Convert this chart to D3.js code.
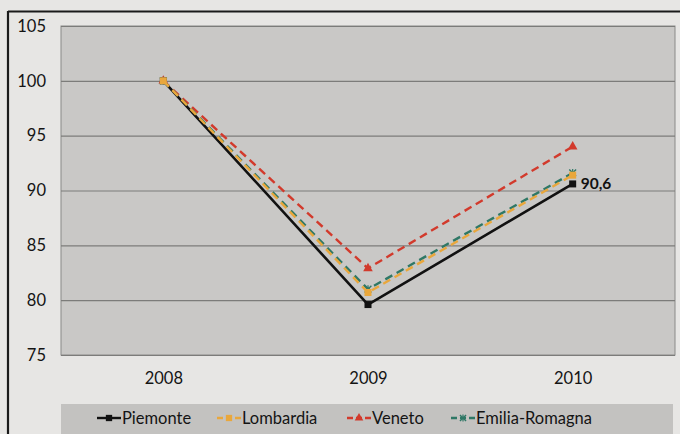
<!DOCTYPE html>
<html>
<head>
<meta charset="utf-8">
<script src="https://cdn.jsdelivr.net/npm/d3@7"></script>
<style>
  html, body { margin: 0; padding: 0; background: #e7e6e4; }
  svg { display: block; font-family: Lato, "Open Sans", sans-serif; }
</style>
</head>
<body>
<svg id="chart" width="680" height="434"></svg>
<script>
// Index 2008 = 100
const years = ["2008", "2009", "2010"];
const yTicks = [75, 80, 85, 90, 95, 100, 105];
const piemonte = [100, 79.6, 90.6];
const lombardia = [100, 80.7, 91.4];
const veneto = [100, 82.9, 94.0];
const emiliaRomagna = [100, 81.0, 91.6];

const seriesNames = ["Piemonte", "Lombardia", "Veneto", "Emilia-Romagna"];
const seriesValues = [piemonte, lombardia, veneto, emiliaRomagna];
const seriesColors = ["#111111", "#e9a73c", "#d23a2c", "#2f7866"];
const seriesDash = [null, "8,5", "8,5", "8,5"];
const seriesMarkers = ["square", "square", "triangle", "star"];

const svg = d3.select("#chart");
const W = 680, H = 434;
const plot = { left: 61, right: 675, top: 26, bottom: 355 };

// Outer frame (top and left edges)
svg.append("line").attr("x1", 8).attr("x2", W).attr("y1", 11.5).attr("y2", 11.5)
  .attr("stroke", "#1a1a1a").attr("stroke-width", 2);
svg.append("line").attr("x1", 8).attr("x2", 8).attr("y1", 11).attr("y2", H)
  .attr("stroke", "#1a1a1a").attr("stroke-width", 2.2);

const x = d3.scalePoint().domain(years).range([plot.left, plot.right]).padding(0.5);
const y = d3.scaleLinear().domain([75, 105]).range([plot.bottom, plot.top]);

// Plot background
svg.append("rect")
  .attr("x", plot.left).attr("y", plot.top)
  .attr("width", plot.right - plot.left).attr("height", plot.bottom - plot.top)
  .attr("fill", "#c9c8c6").attr("stroke", "#8a8a88").attr("stroke-width", 1);

// Horizontal gridlines
svg.append("g").selectAll("line").data(yTicks).join("line")
  .attr("x1", plot.left).attr("x2", plot.right)
  .attr("y1", d => y(d) + 0.5).attr("y2", d => y(d) + 0.5)
  .attr("stroke", "#7c7c7a").attr("stroke-width", 1.2);

// Y axis labels
const yAxis = d3.axisLeft(y).tickValues(yTicks).tickSize(0).tickPadding(15);
const gy = svg.append("g").attr("transform", `translate(${plot.left},0)`).call(yAxis);
gy.select(".domain").remove();
gy.selectAll("text").attr("font-size", 16.5).attr("fill", "#141414")
  .attr("font-family", "Lato, sans-serif");

// X axis labels
const xAxis = d3.axisBottom(x).tickSize(0).tickPadding(17);
const gx = svg.append("g").attr("transform", `translate(0,${plot.bottom})`).call(xAxis);
gx.select(".domain").remove();
gx.selectAll("text").attr("font-size", 16.5).attr("fill", "#141414")
  .attr("font-family", "Lato, sans-serif");

// Marker drawing
function drawMarker(g, type, color, cx, cy, s = 1) {
  if (type === "square") {
    g.append("rect").attr("x", cx - 3.5 * s).attr("y", cy - 3.5 * s)
      .attr("width", 7 * s).attr("height", 7 * s).attr("fill", color);
  } else if (type === "triangle") {
    g.append("path").attr("d", d3.symbol(d3.symbolTriangle, 40 * s * s)())
      .attr("transform", `translate(${cx},${cy})`).attr("fill", color);
  } else if (type === "star") {
    g.append("path").attr("d", d3.symbol(d3.symbolTimes, 32 * s * s)())
      .attr("transform", `translate(${cx},${cy})`).attr("fill", "none")
      .attr("stroke", color).attr("stroke-width", 1.4);
    g.append("line").attr("x1", cx).attr("x2", cx).attr("y1", cy - 4 * s).attr("y2", cy + 4 * s)
      .attr("stroke", color).attr("stroke-width", 1.2);
  }
}

const line = d3.line().x((d, i) => x(years[i])).y(d => y(d));

// Draw series back to front so Piemonte stays on top
const order = [0, 2, 3, 1];
order.forEach(k => {
  const g = svg.append("g");
  g.append("path").datum(seriesValues[k]).attr("d", line)
    .attr("fill", "none").attr("stroke", seriesColors[k])
    .attr("stroke-width", k === 0 ? 2.6 : 2.4)
    .attr("stroke-dasharray", seriesDash[k]);
  seriesValues[k].forEach((v, i) => drawMarker(g, seriesMarkers[k], seriesColors[k], x(years[i]), y(v)));
});

// Value label on the last Piemonte point
svg.append("text")
  .attr("x", x("2010") + 8).attr("y", y(piemonte[2]))
  .attr("dy", "0.35em").attr("font-size", 15.5).attr("font-weight", "bold")
  .attr("fill", "#111").text(piemonte[2].toFixed(1).replace(".", ","));

// Legend band
svg.append("rect").attr("x", 61).attr("y", 404).attr("width", 612).attr("height", 30)
  .attr("fill", "#c3c2c0");

const legendX = [97, 217, 347, 451];
const legendY = 418;
const legend = svg.append("g");
seriesNames.forEach((name, k) => {
  const lx = legendX[k];
  const item = legend.append("g");
  item.append("line").attr("x1", lx).attr("x2", lx + 24).attr("y1", legendY).attr("y2", legendY)
    .attr("stroke", seriesColors[k]).attr("stroke-width", 2.4)
    .attr("stroke-dasharray", seriesDash[k] ? "6,3" : null);
  drawMarker(item, seriesMarkers[k], seriesColors[k], lx + 12, legendY, 0.9);
  item.append("text").attr("x", lx + 25).attr("y", legendY).attr("dy", "0.35em")
    .attr("font-size", 16.5).attr("fill", "#141414").text(name);
});
</script>
</body>
</html>
